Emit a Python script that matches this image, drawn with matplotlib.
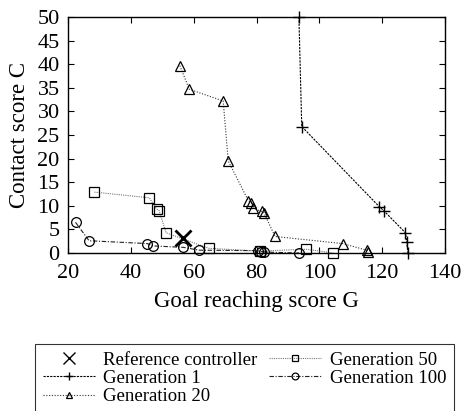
import matplotlib
matplotlib.use("Agg")
import matplotlib.pyplot as plt

plt.rcParams['font.family'] = ['Liberation Serif', 'DejaVu Serif']
plt.rcParams['mathtext.fontset'] = 'stix'

ref_x = [56.7]
ref_y = [3.1]

gen1_x = [93.5, 94.4, 119.1, 120.6, 127.4, 127.8, 128.2]
gen1_y = [50.0, 26.8, 9.8, 8.9, 4.3, 2.4, 0.0]

gen20_x = [55.6, 58.6, 69.4, 71.0, 77.4, 78.3, 79.0, 81.6, 82.4, 85.9, 107.4, 115.1, 115.6]
gen20_y = [39.7, 34.7, 32.2, 19.5, 11.1, 10.7, 9.5, 8.8, 8.5, 3.5, 2.0, 0.6, 0.3]

gen50_x = [28.4, 45.9, 48.2, 49.0, 51.2, 64.8, 81.0, 95.8, 104.5]
gen50_y = [12.9, 11.7, 9.3, 9.0, 4.3, 1.0, 0.4, 0.8, 0.0]

gen100_x = [22.4, 26.7, 45.2, 47.1, 56.7, 61.7, 80.5, 81.5, 82.5, 93.6]
gen100_y = [6.5, 2.6, 2.0, 1.5, 1.2, 0.6, 0.5, 0.3, 0.2, 0.0]

xticks = [20, 40, 60, 80, 100, 120, 140]
yticks = [0, 5, 10, 15, 20, 25, 30, 35, 40, 45, 50]

fig = plt.figure(figsize=(4.61, 4.11), dpi=100)
ax = fig.add_axes([0.1475, 0.3844, 0.8178, 0.5742])

lw = 0.8
ax.plot(ref_x, ref_y, linestyle='none', marker='x', color='black', ms=12, mew=2.0,
        label='Reference controller', zorder=5)
ax.plot(gen1_x, gen1_y, linestyle=(0, (2, 1)), color='black', lw=lw, marker='+', ms=9,
        mew=1.0, label='Generation 1', clip_on=False)
ax.plot(gen20_x, gen20_y, linestyle=(0, (1, 1.5)), color='#333333', lw=lw, marker='^', ms=7,
        mfc='none', mec='black', mew=0.9, label='Generation 20', clip_on=False)
ax.plot(gen50_x, gen50_y, linestyle=(0, (1, 1)), color='#777777', lw=lw, marker='s', ms=7,
        mfc='none', mec='black', mew=0.9, label='Generation 50', clip_on=False)
ax.plot(gen100_x, gen100_y, linestyle=(0, (4, 1.5, 1, 1.5)), color='#222222', lw=lw, marker='o', ms=7,
        mfc='none', mec='black', mew=0.9, label='Generation 100', clip_on=False)

ax.set_xlim(20, 140)
ax.set_ylim(0, 50)
ax.set_xticks(xticks)
ax.set_yticks(yticks)
ax.tick_params(direction='in', top=True, right=True, labelsize=16, length=4, width=0.8)
ax.tick_params(axis='y', pad=6)
ax.tick_params(axis='x', pad=8)
ax.set_xlabel('Goal reaching score G', fontsize=16.5, labelpad=6)
ax.set_ylabel('Contact score C', fontsize=16.5, labelpad=5)
for s in ax.spines.values():
    s.set_linewidth(1.0)

leg = fig.legend(loc='upper left', bbox_to_anchor=(0.076, 0.163), ncol=2, fontsize=13.5,
                 frameon=True, fancybox=False, edgecolor='black', handlelength=2.8,
                 markerscale=0.7, borderpad=0.4, labelspacing=0.06, columnspacing=0.6,
                 handletextpad=0.45, borderaxespad=0)
leg.get_frame().set_linewidth(0.8)
leg.legend_handles[0].set_markeredgewidth(1.0)
leg.legend_handles[0].set_markersize(8)

fig.savefig('out.png', dpi=100)
